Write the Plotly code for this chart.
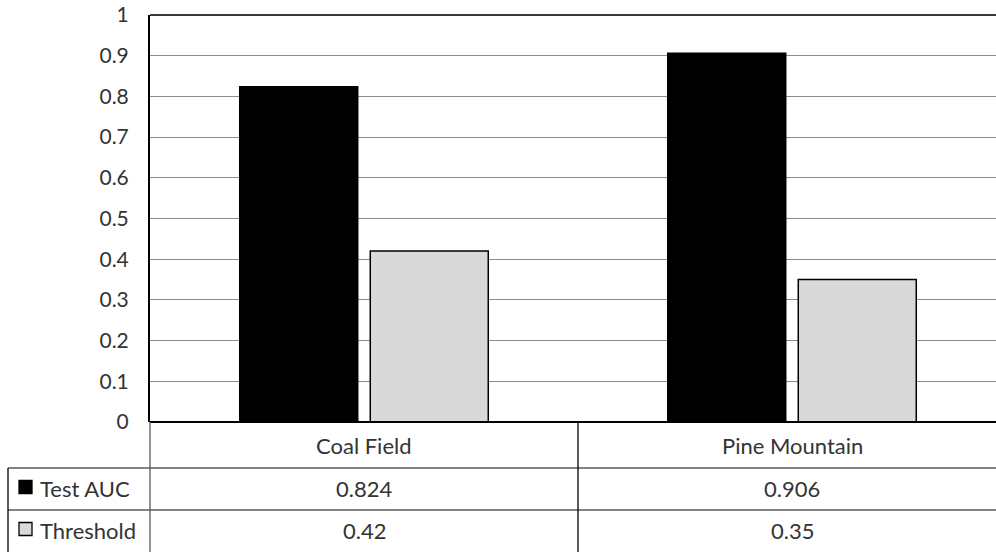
import plotly.graph_objects as go

# Data
sites = ["Coal Field", "Pine Mountain"]
test_auc = [0.824, 0.906]
threshold = [0.42, 0.35]
series_names = ["Test AUC", "Threshold"]
y_ticks = [0, 0.1, 0.2, 0.3, 0.4, 0.5, 0.6, 0.7, 0.8, 0.9, 1]
y_tick_labels = ["0", "0.1", "0.2", "0.3", "0.4", "0.5", "0.6", "0.7", "0.8", "0.9", "1"]

FONT = "Lato"
FS = 22
TXT = "#333333"
W, H = 996, 552
L, T, B = 150, 15, 130
plot_h = H - T - B  # 407
cat_w = 428.0  # pixel width per category

fig = go.Figure()
fig.add_trace(go.Bar(x=[0, 1], y=test_auc, name=series_names[0],
                     marker=dict(color="#000000", line=dict(color="#000000", width=1.5))))
fig.add_trace(go.Bar(x=[0, 1], y=threshold, name=series_names[1],
                     marker=dict(color="#d9d9d9", line=dict(color="#000000", width=1.5))))

x_max = -0.5 + (W - L) / cat_w

fig.update_layout(
    width=W, height=H, autosize=False,
    margin=dict(l=L, r=0, t=T, b=B, pad=0),
    paper_bgcolor="white", plot_bgcolor="white",
    showlegend=False,
    barmode="group", bargap=0.39, bargroupgap=0.096,
    font=dict(family=FONT, size=FS, color=TXT),
    xaxis=dict(range=[-0.5, x_max], showticklabels=False, showgrid=False,
               zeroline=False, showline=False, fixedrange=True),
    yaxis=dict(range=[0, 1], tickvals=y_ticks, ticktext=y_tick_labels,
               showgrid=True, gridcolor="#8c8c8c", gridwidth=1,
               zeroline=False, showline=True, linecolor="#000000", linewidth=2,
               ticks="", ticklabelstandoff=15, tickfont=dict(size=21, color=TXT),
               fixedrange=True),
)


def row_y(py):
    # pixel row (from top of figure) -> paper y relative to the plot area
    return (H - B - py) / plot_h


def col_x(px):
    # pixel column (from left of figure) -> paper x relative to the plot area
    return (px - L) / (W - L)


shapes = []
line_grey = dict(color="#5a5a5a", width=1.3)
line_dark = dict(color="#000000", width=1.3)
# top border and baseline of the plot area
shapes.append(dict(type="line", xref="paper", yref="paper", x0=0, x1=1, y0=1, y1=1,
                   line=dict(color="#3a3a3a", width=2.2)))
shapes.append(dict(type="line", xref="paper", yref="paper", x0=0, x1=1, y0=0, y1=0,
                   line=dict(color="#000000", width=2)))

# data table grid
for ry in [468, 510]:
    shapes.append(dict(type="line", xref="paper", yref="paper",
                       x0=col_x(8), x1=1, y0=row_y(ry), y1=row_y(ry), line=line_grey))
table_bottom = row_y(552)
shapes.append(dict(type="line", xref="paper", yref="paper", x0=0, x1=0,
                   y0=0, y1=table_bottom, line=line_grey))
shapes.append(dict(type="line", xref="x", yref="paper", x0=0.5, x1=0.5,
                   y0=0, y1=table_bottom, line=line_dark))
shapes.append(dict(type="line", xref="paper", yref="paper", x0=col_x(8), x1=col_x(8),
                   y0=row_y(468), y1=table_bottom, line=line_dark))


# legend keys inside the table
def key(y_center, fill):
    return dict(type="rect", xref="paper", yref="paper",
                x0=col_x(19), x1=col_x(32),
                y0=row_y(y_center + 6.5), y1=row_y(y_center - 6.5),
                fillcolor=fill, line=dict(color="#000000", width=1.3))


shapes.append(key(487, "#000000"))
shapes.append(key(529, "#d9d9d9"))
fig.update_layout(shapes=shapes)

ann = []
for i, s in enumerate(sites):
    for text, py in [(s, 445), (f"{test_auc[i]:g}", 488), (f"{threshold[i]:g}", 530)]:
        ann.append(dict(x=i, y=row_y(py), xref="x", yref="paper", text=text, showarrow=False,
                        xanchor="center", yanchor="middle", font=dict(size=FS, color=TXT)))
for name, py in zip(series_names, [488, 530]):
    ann.append(dict(x=col_x(38), y=row_y(py), xref="paper", yref="paper",
                    text=name, showarrow=False, xanchor="left", yanchor="middle",
                    font=dict(size=FS, color=TXT)))
fig.update_layout(annotations=ann)

fig.write_html("out.html")
